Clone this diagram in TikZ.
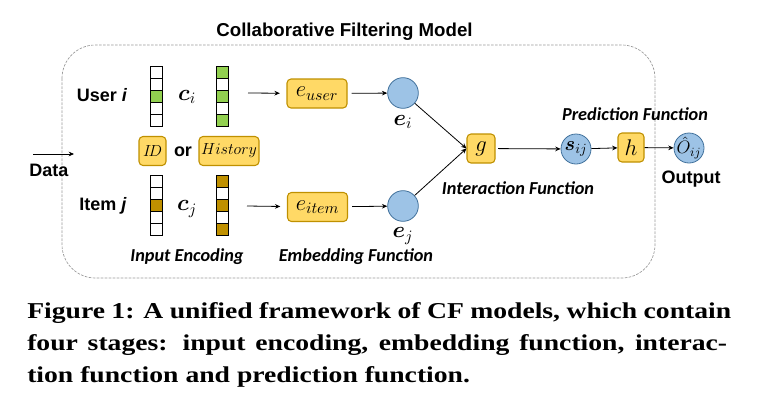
\documentclass[tikz,border=0pt]{standalone}
\usepackage{fix-cm}
\usepackage{amsmath}
\usepackage{fontspec}
\setsansfont{Liberation Sans}
\newfontfamily\labfont{Carlito}
\newfontfamily\capfont{Liberation Serif}
\usetikzlibrary{arrows.meta, positioning}

\definecolor{boxfill}{RGB}{255,217,102}
\definecolor{boxline}{RGB}{191,144,0}
\definecolor{circfill}{RGB}{157,195,230}
\definecolor{circline}{RGB}{65,113,156}
\definecolor{onegreen}{RGB}{146,208,80}
\definecolor{onebrown}{RGB}{191,144,0}

\begin{document}
\begin{tikzpicture}[x=0.75pt, y=-0.75pt,
  fbox/.style={draw=boxline, fill=boxfill, rounded corners=3pt, line width=0.8pt, inner sep=0pt, minimum height=21.75pt},
  circ/.style={circle, draw=circline, fill=circfill, line width=0.6pt, inner sep=0pt, minimum size=23pt},
  lbl/.style={font=\sffamily\bfseries\fontsize{13.5}{16}\selectfont},
  itl/.style={font=\labfont\bfseries\itshape\fontsize{13.7}{15}\selectfont},
  mth/.style={font=\fontsize{17}{19}\selectfont},
  arr/.style={-{Stealth[length=4pt, width=3.5pt]}, line width=0.6pt},
  captxt/.style={font=\capfont\bfseries\fontsize{17}{20}\selectfont, anchor=base west, inner sep=0pt}]
\useasboundingbox (0,0) rectangle (764,404);

\node[lbl, font=\sffamily\bfseries\fontsize{14}{16}\selectfont] (title) at (344.5,32) {Collaborative Filtering Model};
\draw[gray!80, dash pattern=on 2pt off 1pt, line width=0.5pt, rounded corners=25pt] (62,45) rectangle (655,278);

% data in
\coordinate (din) at (33,154);
\coordinate (dout) at (74,154);
\draw[arr] (din) -- (dout);
\node[lbl] (data) at (49,170) {Data};

% user row
\node[lbl] (user) at (102,95) {User \textit{i}};
\filldraw[fill=onegreen, draw=black] (150,90) rectangle (162.5,102);
\draw[line width=0.6pt] (150,66) rectangle (162.5,126);
\draw (150,78) -- (162.5,78);
\draw (150,90) -- (162.5,90);
\draw (150,102) -- (162.5,102);
\draw (150,114) -- (162.5,114);
\node[mth] (ci) at (187,97) {$\boldsymbol{c}_i$};
\filldraw[fill=onegreen, draw=black] (216,66) rectangle (228.5,78);
\filldraw[fill=onegreen, draw=black] (216,90) rectangle (228.5,102);
\filldraw[fill=onegreen, draw=black] (216,114) rectangle (228.5,126);
\draw[line width=0.6pt] (216,66) rectangle (228.5,126);
\draw (216,78) -- (228.5,78);
\draw (216,102) -- (228.5,102);
\coordinate (ua) at (248,93);
\node[fbox, mth, minimum width=45pt] (euser) at (317,93.5) {$e_{user}$};
\node[circ] (ei) at (403,93) {};
\node[mth] (eilab) at (403,122) {$\boldsymbol{e}_i$};
\draw[arr, shorten >=5pt] (ua) -- (euser);
\draw[arr, shorten <=3pt] (euser) -- (ei);

% ID or History
\node[fbox, minimum width=20.25pt, font=\fontsize{12}{14}\selectfont] (id) at (152.5,151) {$I\!D$};
\node[lbl] (or) at (183,152) {or};
\node[fbox, minimum width=45pt, font=\fontsize{12}{14}\selectfont] (hist) at (229,151) {$History$};

% item row
\node[lbl] (item) at (103,206) {Item \textit{j}};
\filldraw[fill=onebrown, draw=black] (150,199) rectangle (162.5,211);
\draw[line width=0.6pt] (150,175) rectangle (162.5,235);
\draw (150,187) -- (162.5,187);
\draw (150,199) -- (162.5,199);
\draw (150,211) -- (162.5,211);
\draw (150,223) -- (162.5,223);
\node[mth] (cj) at (187,209) {$\boldsymbol{c}_j$};
\filldraw[fill=onebrown, draw=black] (216,175) rectangle (228.5,187);
\filldraw[fill=onebrown, draw=black] (216,199) rectangle (228.5,211);
\filldraw[fill=onebrown, draw=black] (216,223) rectangle (228.5,235);
\draw[line width=0.6pt] (216,175) rectangle (228.5,235);
\draw (216,187) -- (228.5,187);
\draw (216,211) -- (228.5,211);
\coordinate (ia) at (247,206);
\node[fbox, mth, minimum width=45pt] (eitem) at (317.5,207) {$e_{item}$};
\node[circ] (ej) at (403,206) {};
\node[mth] (ejlab) at (403,236) {$\boldsymbol{e}_j$};
\draw[arr, shorten >=5pt] (ia) -- (eitem);
\draw[arr, shorten <=3pt] (eitem) -- (ej);

\node[itl] (inenc) at (187,257) {Input Encoding};
\node[itl] (embf) at (356,257) {Embedding Function};

% interaction and prediction
\node[fbox, mth, minimum width=21pt] (g) at (481,148.5) {$g$};
\draw[arr] (ei) -- (g.west);
\draw[arr] (ej) -- (g.west);
\node[itl] (interf) at (518,188) {Interaction Function};
\node[circ, mth, font=\fontsize{15}{17}\selectfont, minimum size=22.5pt] (sij) at (576,149) {\makebox[0pt]{$\boldsymbol{s}_{ij}$}};
\node[fbox, mth, minimum width=19.5pt] (h) at (631,147.5) {$h$};
\node[circ, mth, font=\fontsize{13.5}{15}\selectfont, minimum size=22.5pt] (oij) at (689,148) {\makebox[0pt]{$\hat{O}_{ij}$}};
\draw[arr, shorten <=2pt] (g) -- (sij);
\draw[arr] (sij) -- (h);
\draw[arr] (h) -- (oij);
\node[itl] (predf) at (635,114) {Prediction Function};
\node[lbl] (out) at (691,179) {Output};

% caption
\node[captxt] (cap1) at (27,318) {\scalebox{1.22}[1]{\makebox[432.8pt][s]{Figure 1: A unified framework of CF models, which contain}}};
\node[captxt] (cap2) at (27,350) {\scalebox{1.22}[1]{\makebox[430.3pt][s]{four stages: input encoding, embedding function, interac-}}};
\node[captxt] (cap3) at (27,382) {\scalebox{1.22}[1]{tion function and prediction function.}};

\end{tikzpicture}
\end{document}
